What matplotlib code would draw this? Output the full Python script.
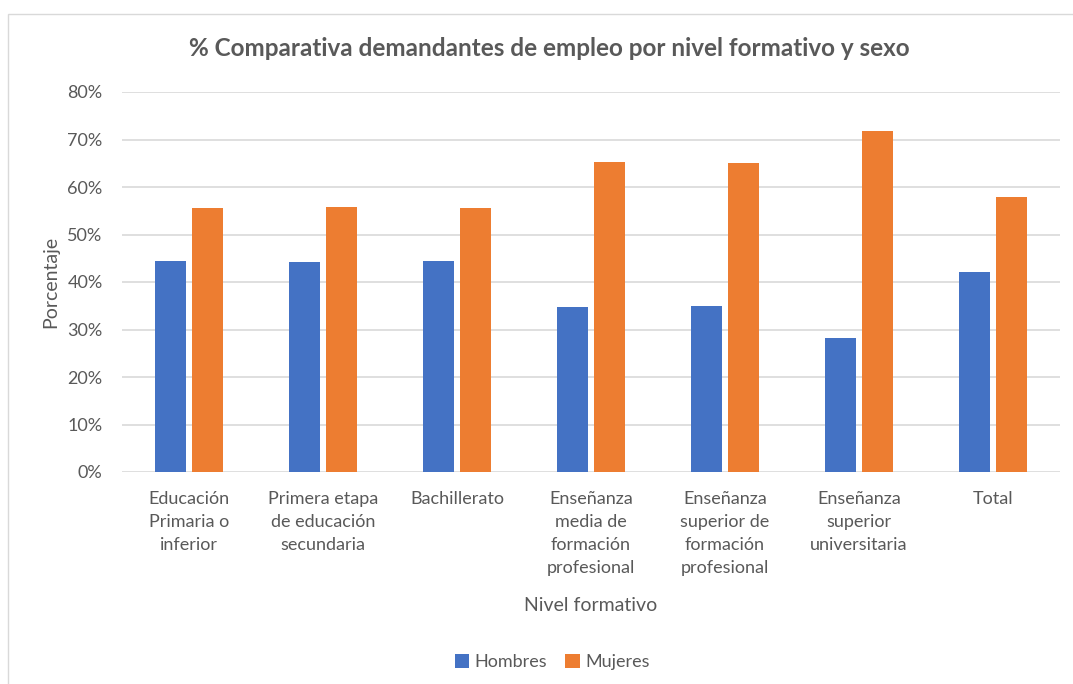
import matplotlib
matplotlib.use("Agg")
import numpy as np
from matplotlib import pyplot as plt
from matplotlib.patches import Rectangle
from matplotlib.ticker import PercentFormatter

plt.rcParams['font.family'] = ['Lato', 'DejaVu Sans']

niveles = ["Educación\nPrimaria o\ninferior",
           "Primera etapa\nde educación\nsecundaria",
           "Bachillerato",
           "Enseñanza\nmedia de\nformación\nprofesional",
           "Enseñanza\nsuperior de\nformación\nprofesional",
           "Enseñanza\nsuperior\nuniversitaria",
           "Total"]
hombres = [44.5, 44.2, 44.4, 34.8, 35.0, 28.3, 42.1]
mujeres = [55.6, 55.8, 55.6, 65.2, 65.0, 71.7, 57.9]

gris = "#595959"
fig = plt.figure(figsize=(10.73, 6.84), dpi=100)
ax = fig.add_axes([122 / 1073, 1 - 472 / 684, (1060 - 122) / 1073, (472 - 92) / 684])

x = np.arange(len(niveles))
w = 0.23
ax.bar(x - 0.14, hombres, w, color="#4472C4", label="Hombres", zorder=3)
ax.bar(x + 0.14, mujeres, w, color="#ED7D31", label="Mujeres", zorder=3)

ax.set_xlim(-0.5, len(niveles) - 0.5)
ax.set_ylim(0, 80)
ax.set_yticks(np.arange(0, 81, 10))
ax.yaxis.set_major_formatter(PercentFormatter(decimals=0))
ax.grid(axis="y", color="#D9D9D9", linewidth=1.2, zorder=0)
for s in ax.spines.values():
    s.set_visible(False)
ax.tick_params(length=0, labelsize=13, colors=gris)
ax.tick_params(axis="y", pad=14)
ax.tick_params(axis="x", pad=14)
ax.set_xticks(x)
ax.set_xticklabels(niveles, linespacing=1.52, va="top")

ax.set_ylabel("Porcentaje", fontsize=14, color=gris, labelpad=6)
ax.set_xlabel("Nivel formativo", fontsize=14, color=gris, labelpad=15)
fig.text(549 / 1073, 1 - 48 / 684, "% Comparativa demandantes de empleo por nivel formativo y sexo",
         ha="center", va="center", fontsize=17.5, fontweight="bold", color=gris)

fig.legend(loc="center", bbox_to_anchor=(552 / 1073, 1 - 662 / 684), ncol=2, frameon=False,
           fontsize=13, labelcolor=gris, handlelength=0.8, handleheight=0.8,
           handletextpad=0.3, columnspacing=1.0)

fig.patches.append(Rectangle((8 / 1073, -0.01), 1.1, 1 - 14 / 684 + 0.01, transform=fig.transFigure,
                             fill=False, edgecolor="#D9D9D9", linewidth=1))

fig.savefig("out.png", dpi=100)
